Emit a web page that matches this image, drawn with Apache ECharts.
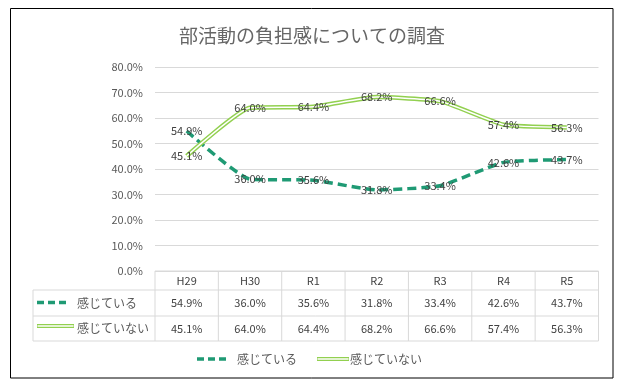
<!DOCTYPE html>
<html><head><meta charset="utf-8">
<script src="https://cdn.jsdelivr.net/npm/echarts@6/dist/echarts.min.js"></script>
<style>html,body{margin:0;padding:0;background:#fff}#c{width:624px;height:385px}</style>
</head><body><div id="c"></div>
<script>
const categories = ['H29','H30','R1','R2','R3','R4','R5'];
const feelName = '感じている';
const notFeelName = '感じていない';
const feel = [54.9,36.0,35.6,31.8,33.4,42.6,43.7];
const notFeel = [45.1,64.0,64.4,68.2,66.6,57.4,56.3];
const yMin = 0, yMax = 80, yStep = 10;

const FONT = '"Noto Sans CJK JP", "Noto Sans", sans-serif';
const TEAL = '#1f9a74';
const LGREEN = '#92d050';
const TXT = '#404040';
const GRID = '#d9d9d9';
const fmt = v => v.toFixed(1) + '%';

const chart = echarts.init(document.getElementById('c'), null, {renderer:'canvas'});
const labelCfg = {show:true, position:'inside', color:TXT, fontSize:11, fontFamily:FONT, formatter:p=>fmt(p.value)};
const SM = 0.15;
chart.setOption({
  animation:false,
  title:{text:'部活動の負担感についての調査', left:'center', top:21,
    textStyle:{color:'#666666', fontSize:19, fontWeight:'normal', fontFamily:FONT}},
  grid:{left:155, right:25.5, top:67, bottom:114},
  xAxis:{type:'category', data:categories, boundaryGap:true,
    axisLine:{show:false}, axisTick:{show:false}, axisLabel:{show:false}, splitLine:{show:false}},
  yAxis:{type:'value', min:yMin, max:yMax, interval:yStep,
    axisLine:{show:false}, axisTick:{show:false},
    axisLabel:{color:'#595959', fontSize:11, fontFamily:FONT, margin:12, formatter:v=>fmt(v)},
    splitLine:{lineStyle:{color:GRID, width:1}}},
  series:[
    {name:feelName, type:'line', data:feel, smooth:SM, symbol:'circle', symbolSize:1, showSymbol:true,
      itemStyle:{color:'rgba(0,0,0,0)'},
      lineStyle:{color:TEAL, width:3.5, type:[9,5]}, label:labelCfg, z:3},
    {name:notFeelName+'_outer', type:'line', data:notFeel, smooth:SM, symbol:'none',
      lineStyle:{color:LGREEN, width:4.5}, z:4},
    {name:notFeelName, type:'line', data:notFeel, smooth:SM, symbol:'circle', symbolSize:1, showSymbol:true,
      itemStyle:{color:'rgba(0,0,0,0)'},
      lineStyle:{color:'#ffffff', width:1.5}, label:labelCfg, z:5}
  ]
});

function buildGraphic(){
  const els = [];
  const x0 = chart.convertToPixel({xAxisIndex:0}, categories[0]);
  const x1 = chart.convertToPixel({xAxisIndex:0}, categories[1]);
  const cw = x1 - x0;
  const left = x0 - cw/2;
  const right = left + cw*categories.length;
  const yTop = chart.convertToPixel({yAxisIndex:0}, yMin);
  const rows = [yTop, yTop+19, yTop+45, yTop+70];
  const tableLeft = 33;
  const ls = {stroke:GRID, lineWidth:1};
  const line = (xa,ya,xb,yb)=>els.push({type:'line', shape:{x1:xa,y1:ya,x2:xb,y2:yb}, style:ls, silent:true});
  els.push({type:'rect', shape:{x:10.5,y:8.5,width:602.5,height:369.5}, style:{fill:'none', stroke:'#000', lineWidth:1}, silent:true, z:-1});
  line(left, rows[0], right, rows[0]);
  for (let i=1;i<4;i++) line(tableLeft, rows[i], right, rows[i]);
  line(tableLeft, rows[1], tableLeft, rows[3]);
  for (let i=0;i<=categories.length;i++) line(left+cw*i, rows[0], left+cw*i, rows[3]);
  const txt = (x,y,t,align,col,fs)=>els.push({type:'text', x:x, y:y, style:{text:t, fill:col||TXT, fontSize:fs||11, fontFamily:FONT, align:align||'center', verticalAlign:'middle'}, silent:true});
  categories.forEach((c,i)=>{
    const cx = left+cw*(i+0.5);
    txt(cx, (rows[0]+rows[1])/2, c);
    txt(cx, (rows[1]+rows[2])/2, fmt(feel[i]));
    txt(cx, (rows[2]+rows[3])/2, fmt(notFeel[i]));
  });
  const dashKey = (x,y)=>els.push({type:'line', shape:{x1:x,y1:y,x2:x+31,y2:y}, style:{stroke:TEAL, lineWidth:3.5, lineDash:[7,4]}, silent:true});
  const dblKey = (x,y,w)=>{
    els.push({type:'line', shape:{x1:x,y1:y,x2:x+w,y2:y}, style:{stroke:LGREEN, lineWidth:4}, silent:true});
    els.push({type:'line', shape:{x1:x+0.5,y1:y,x2:x+w-0.5,y2:y}, style:{stroke:'#fff', lineWidth:1.5}, silent:true});
  };
  const r1 = (rows[1]+rows[2])/2, r2 = (rows[2]+rows[3])/2;
  dashKey(37, r1-0.5); txt(77, r1, feelName, 'left', '#595959', 12);
  dblKey(37, r2-2.5, 37); txt(77, r2, notFeelName, 'left', '#595959', 12);
  const ly = 359;
  dashKey(197, ly); txt(237, ly, feelName, 'left', '#595959', 12);
  dblKey(317, ly, 32); txt(350, ly, notFeelName, 'left', '#595959', 12);
  chart.setOption({graphic:{elements:els}});
}
buildGraphic();
</script></body></html>
